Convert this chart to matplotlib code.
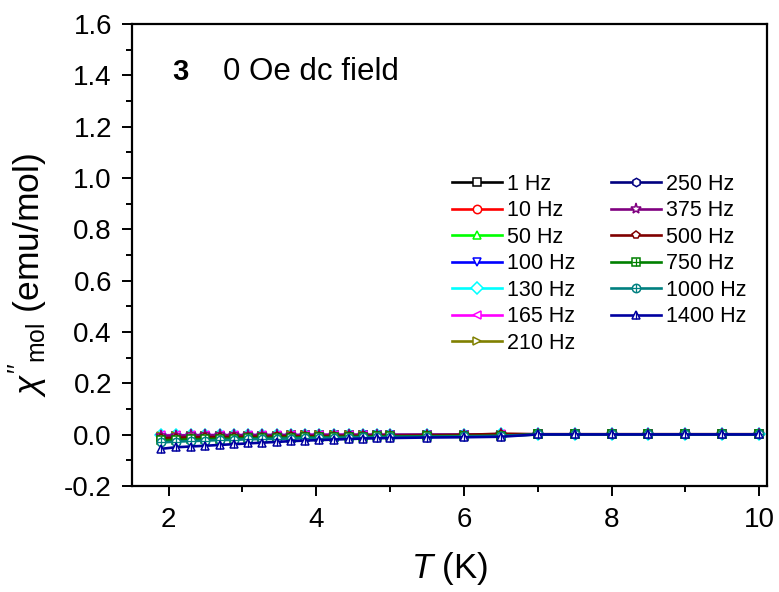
import matplotlib
matplotlib.use("Agg")
import matplotlib.pyplot as plt
from matplotlib.ticker import MultipleLocator

plt.rcParams["font.family"] = ["Liberation Sans", "DejaVu Sans"]
plt.rcParams["mathtext.fontset"] = "custom"
plt.rcParams["mathtext.rm"] = "Liberation Sans"
plt.rcParams["mathtext.it"] = "Liberation Sans:italic"
plt.rcParams["mathtext.bf"] = "Liberation Sans:bold"

# temperatures (K)
temperature = [1.9, 2.1, 2.3, 2.5, 2.69, 2.88, 3.07, 3.27, 3.47, 3.66, 3.85, 4.04, 4.24,
               4.44, 4.63, 4.82, 5.0, 5.5, 6.0, 6.5, 7.0, 7.5, 8.0, 8.5, 9.0, 9.5, 10.0]

frequencies = ["1 Hz", "10 Hz", "50 Hz", "100 Hz", "130 Hz", "165 Hz", "210 Hz",
               "250 Hz", "375 Hz", "500 Hz", "750 Hz", "1000 Hz", "1400 Hz"]

# out-of-phase susceptibility chi'' (emu/mol), one list per frequency
chi_1 = [-0.008, -0.007, -0.006, -0.006, -0.005, -0.005, -0.004, -0.004, -0.004, -0.003, -0.003, -0.003, -0.003,
         -0.002, -0.002, -0.002, -0.002, -0.001, -0.001, 0.000, 0.001, 0.001, 0.001, 0.001, 0.001, 0.001, 0.001]
chi_10 = [-0.012, -0.010, -0.009, -0.009, -0.008, -0.008, -0.007, -0.007, -0.006, -0.006, -0.005, -0.005, -0.005,
          -0.004, -0.004, -0.004, -0.003, -0.003, -0.002, 0.000, 0.001, 0.001, 0.001, 0.001, 0.001, 0.001, 0.001]
chi_50 = [-0.006, -0.005, -0.005, -0.004, -0.004, -0.004, -0.003, -0.003, -0.003, -0.003, -0.002, -0.002, -0.002,
          -0.002, -0.002, -0.001, -0.001, -0.001, -0.001, 0.000, 0.001, 0.001, 0.001, 0.001, 0.001, 0.001, 0.001]
chi_100 = [-0.010, -0.009, -0.008, -0.008, -0.007, -0.007, -0.006, -0.006, -0.005, -0.005, -0.005, -0.004, -0.004,
           -0.004, -0.003, -0.003, -0.003, -0.002, -0.002, -0.001, 0.001, 0.001, 0.001, 0.001, 0.001, 0.001, 0.001]
chi_130 = [-0.003, -0.003, -0.002, -0.002, -0.002, -0.002, -0.002, -0.001, -0.001, -0.001, -0.001, -0.001, -0.001,
           -0.001, -0.001, 0.000, 0.000, 0.000, 0.000, 0.001, 0.001, 0.001, 0.001, 0.001, 0.001, 0.001, 0.001]
chi_165 = [-0.002, -0.002, -0.002, -0.001, -0.001, -0.001, -0.001, -0.001, -0.001, -0.001, 0.000, 0.000, 0.000,
           0.000, 0.000, 0.000, 0.000, 0.000, 0.000, 0.001, 0.001, 0.001, 0.001, 0.001, 0.001, 0.001, 0.001]
chi_210 = [-0.007, -0.006, -0.006, -0.005, -0.005, -0.005, -0.004, -0.004, -0.004, -0.003, -0.003, -0.003, -0.003,
           -0.002, -0.002, -0.002, -0.002, -0.001, -0.001, 0.000, 0.001, 0.001, 0.001, 0.001, 0.001, 0.001, 0.001]
chi_250 = [-0.009, -0.008, -0.008, -0.007, -0.007, -0.006, -0.006, -0.005, -0.005, -0.005, -0.004, -0.004, -0.004,
           -0.003, -0.003, -0.003, -0.003, -0.002, -0.002, 0.000, 0.001, 0.001, 0.001, 0.001, 0.001, 0.001, 0.001]
chi_375 = [-0.004, -0.004, -0.003, -0.003, -0.003, -0.003, -0.002, -0.002, -0.002, -0.002, -0.002, -0.001, -0.001,
           -0.001, -0.001, -0.001, -0.001, 0.000, 0.000, 0.001, 0.001, 0.001, 0.001, 0.001, 0.001, 0.001, 0.001]
chi_500 = [-0.014, -0.012, -0.011, -0.010, -0.010, -0.009, -0.008, -0.008, -0.007, -0.007, -0.006, -0.006, -0.005,
           -0.005, -0.005, -0.004, -0.004, -0.003, -0.001, 0.004, 0.002, 0.002, 0.002, 0.002, 0.002, 0.002, 0.002]
chi_750 = [-0.022, -0.020, -0.018, -0.017, -0.016, -0.015, -0.014, -0.013, -0.012, -0.011, -0.010, -0.010, -0.009,
           -0.008, -0.008, -0.007, -0.007, -0.006, -0.005, -0.004, 0.001, 0.001, 0.001, 0.001, 0.001, 0.001, 0.001]
chi_1000 = [-0.030, -0.027, -0.025, -0.023, -0.021, -0.020, -0.018, -0.017, -0.016, -0.015, -0.014, -0.013, -0.012,
            -0.011, -0.010, -0.010, -0.009, -0.008, -0.007, -0.005, 0.001, 0.001, 0.001, 0.001, 0.001, 0.001, 0.001]
chi_1400 = [-0.055, -0.049, -0.046, -0.043, -0.040, -0.037, -0.034, -0.031, -0.028, -0.025, -0.023, -0.021, -0.019,
            -0.017, -0.015, -0.014, -0.013, -0.011, -0.010, -0.008, 0.001, 0.001, 0.001, 0.001, 0.001, 0.001, 0.001]

series = [chi_1, chi_10, chi_50, chi_100, chi_130, chi_165, chi_210,
          chi_250, chi_375, chi_500, chi_750, chi_1000, chi_1400]
colors = ["#000000", "#FF0000", "#00FF00", "#0000FF", "#00FFFF", "#FF00FF", "#808000",
          "#000080", "#800080", "#800000", "#008000", "#008080", "#0000A0"]
markers = ["s", "o", "^", "v", "D", "<", ">", "h", "*", "p", "s", "o", "^"]
# 750 / 1000 / 1400 Hz symbols carry an extra cross or bar inside
inner = [None] * 10 + ["+", "+", "|"]

fig = plt.figure(figsize=(7.79, 5.92), dpi=100)
ax = fig.add_axes([0.169, 0.179, 0.815, 0.7805])

handles = []
for vals, col, mk, extra, lab in zip(series, colors, markers, inner, frequencies):
    ms = 8 if mk == "*" else 6
    line, = ax.plot(temperature, vals, color=col, marker=mk, markersize=ms,
                    markerfacecolor="white", markeredgecolor=col, markeredgewidth=1.1,
                    linewidth=1.9, label=lab)
    if extra is not None:
        cross, = ax.plot(temperature, vals, linestyle="none", marker=extra,
                         markersize=6, markeredgecolor=col, markeredgewidth=0.9)
        handles.append((line, cross))
    else:
        handles.append(line)

ax.set_xlim(1.5, 10.1)
ax.set_ylim(-0.2, 1.6)
ax.xaxis.set_major_locator(MultipleLocator(2))
ax.xaxis.set_minor_locator(MultipleLocator(1))
ax.yaxis.set_major_locator(MultipleLocator(0.2))
ax.yaxis.set_minor_locator(MultipleLocator(0.1))
ax.yaxis.set_major_formatter(plt.FuncFormatter(lambda v, p: f"{v:.1f}"))

ax.tick_params(which="both", direction="out", width=1.4, labelsize=20, top=False, right=False)
ax.tick_params(which="major", length=7.2)
ax.tick_params(which="minor", length=4)
ax.tick_params(axis="x", which="major", pad=8)
ax.tick_params(axis="y", which="major", pad=7)
for sp in ax.spines.values():
    sp.set_linewidth(1.6)

ax.set_xlabel(r"$T$ (K)", fontsize=25, labelpad=12)
ax.set_ylabel(r"$\chi''_{\mathrm{mol}}$ (emu/mol)", fontsize=25.5)
ax.yaxis.set_label_coords(-0.128, 0.457)

ax.text(0.0635, 0.896, "3", transform=ax.transAxes, fontsize=21, fontweight="bold",
        va="center", ha="left")
ax.text(0.1438, 0.896, "0 Oe dc field", transform=ax.transAxes, fontsize=22.5,
        va="center", ha="left")

ax.legend(handles, frequencies, ncol=2, frameon=False, fontsize=15.5,
          loc="upper left", bbox_to_anchor=(451.7 / 779, 1 - 173.6 / 592),
          bbox_transform=fig.transFigure, borderpad=0, borderaxespad=0,
          handlelength=2.32, handletextpad=0.25, columnspacing=1.66, labelspacing=0.255)

fig.savefig("out.png", dpi=100)
